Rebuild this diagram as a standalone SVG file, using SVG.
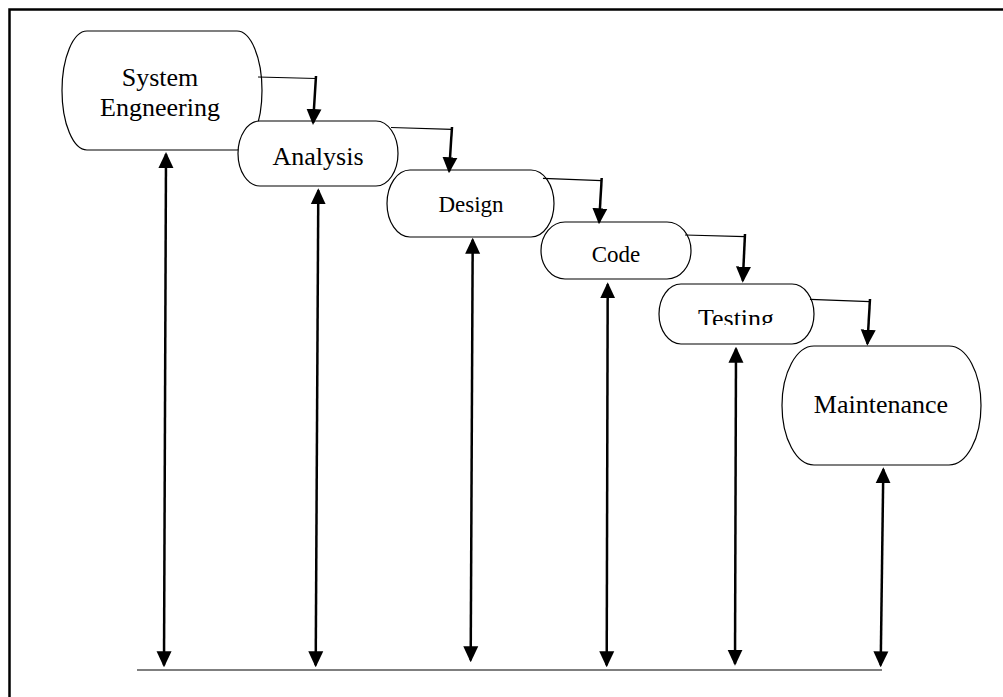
<svg xmlns="http://www.w3.org/2000/svg" width="1003" height="697" viewBox="0 0 1003 697">
<style>
.node{fill:#fff;stroke:#000;stroke-width:1.2}
.lbl{font-family:"Liberation Serif","Times New Roman",serif;fill:#000;text-anchor:middle}
.big{font-size:26px}
.small{font-size:23px}
.thin{stroke:#000;stroke-width:1.2;fill:none}
.flow{stroke:#000;stroke-width:2.5;fill:none;marker-end:url(#ah)}
.dbl{stroke:#000;stroke-width:2.5;fill:none;marker-start:url(#ah);marker-end:url(#ah)}
</style>
<defs>
<marker id="ah" markerUnits="userSpaceOnUse" markerWidth="16" markerHeight="16" refX="14" refY="7.5" orient="auto-start-reverse" viewBox="0 0 16 15">
<path d="M0,0 L16,7.5 L0,15 Z" fill="#000"/>
</marker>
<clipPath id="clipTesting"><rect x="650" y="280" width="180" height="45"/></clipPath>
</defs>
<rect width="1003" height="697" fill="#fff"/>
<path d="M9.5 697 V9.5 H1003" fill="none" stroke="#000" stroke-width="2.5"/>

<g id="node-system-engineering">
<path class="node" d="M87 31 H237 A25 59.5 0 0 1 237 150 H87 A25 59.5 0 0 1 87 31 Z"/>
<text class="lbl big" x="160" y="86">System</text>
<text class="lbl big" x="160" y="116">Engneering</text>
</g>
<g id="node-analysis">
<path class="node" d="M260 121 H376 A22 32.5 0 0 1 376 186 H260 A22 32.5 0 0 1 260 121 Z"/>
<text class="lbl big" x="318" y="165">Analysis</text>
</g>
<g id="node-design">
<path class="node" d="M410 170 H531 A23 33.5 0 0 1 531 237 H410 A23 33.5 0 0 1 410 170 Z"/>
<text class="lbl small" x="471" y="212">Design</text>
</g>
<g id="node-code">
<path class="node" d="M565 222 H667 A24 28.5 0 0 1 667 279 H565 A24 28.5 0 0 1 565 222 Z"/>
<text class="lbl small" x="616" y="262">Code</text>
</g>
<g id="node-testing">
<path class="node" d="M681 284 H792 A22 30 0 0 1 792 344 H681 A22 30 0 0 1 681 284 Z"/>
<text class="lbl big" x="736" y="327" clip-path="url(#clipTesting)">Testing</text>
</g>
<g id="node-maintenance">
<path class="node" d="M814 346 H949 A32 59.5 0 0 1 949 465 H814 A32 59.5 0 0 1 814 346 Z"/>
<text class="lbl big" x="881" y="413">Maintenance</text>
</g>

<g id="connectors">
<path class="thin" d="M258 77 L316 78.5"/>
<path class="thin" d="M391 127.5 L452 129.3"/>
<path class="thin" d="M543 178.3 L601.7 180.7"/>
<path class="thin" d="M685 235 L745 236.7"/>
<path class="thin" d="M810 299.3 L870 301.7"/>
<path class="flow" d="M316 76 L313.1 123"/>
<path class="flow" d="M452 127 L449.1 171.3"/>
<path class="flow" d="M601.7 178 L599.1 222.3"/>
<path class="flow" d="M745 234 L742.8 280.7"/>
<path class="flow" d="M870 299 L867.4 343.7"/>
<path class="dbl" d="M166 154 L164 665.3"/>
<path class="dbl" d="M318.3 190.3 L315.7 665.3"/>
<path class="dbl" d="M472.7 239.7 L470.7 660.3"/>
<path class="dbl" d="M607.7 284.3 L606.7 665.3"/>
<path class="dbl" d="M736 348.7 L735 663.7"/>
<path class="dbl" d="M883.3 469.3 L880.7 665.3"/>
<path d="M137 670 H882" stroke="#555" stroke-width="1.5" fill="none"/>
</g>
</svg>
